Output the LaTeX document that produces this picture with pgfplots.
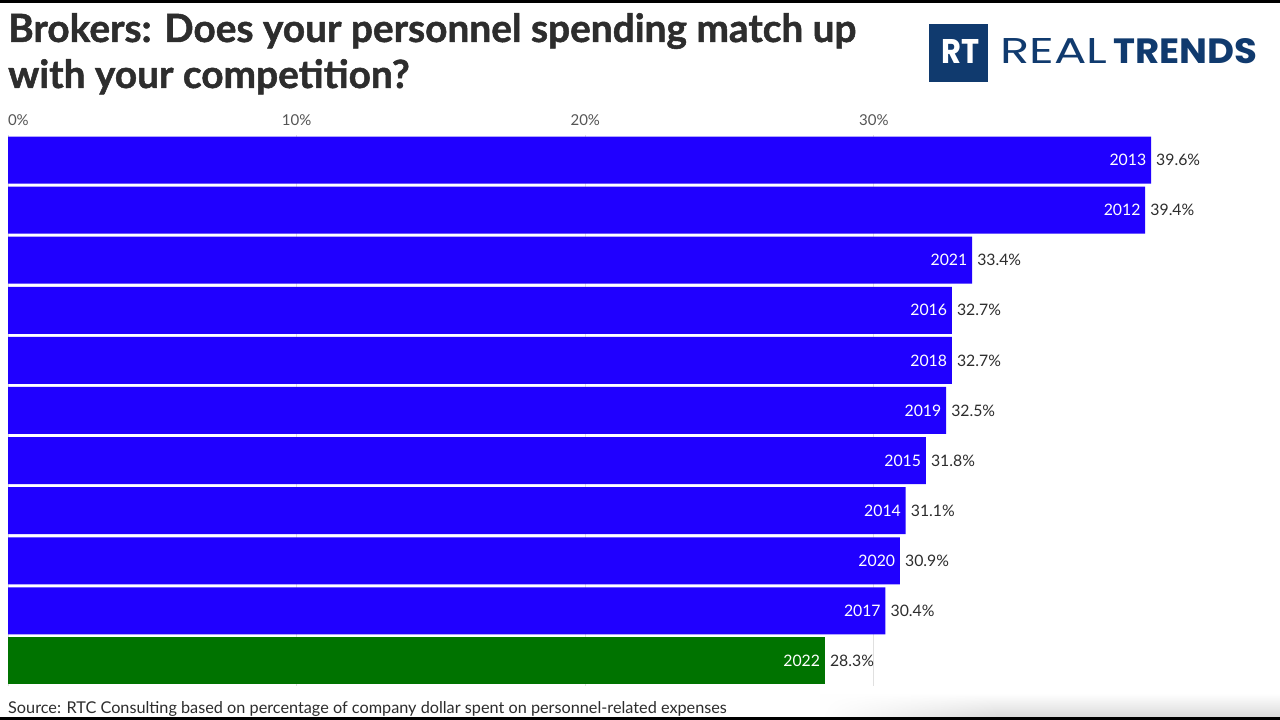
\documentclass[border=0pt]{standalone}
\usepackage{pgfplots}
\pgfplotsset{compat=1.18}
\usepackage{pgfplotstable}
\usetikzlibrary{fadings}
\usepackage{fontspec}
\setmainfont{Lato}
\newfontfamily\titlefont[BoldFeatures={FakeBold=1.3}]{Lato}
\newfontfamily\logofont{Poppins}
\definecolor{barblue}{RGB}{32,0,255}
\definecolor{bargreen}{RGB}{0,115,0}
\definecolor{navy}{RGB}{16,58,110}
\definecolor{txt}{RGB}{45,45,45}
\definecolor{tickc}{RGB}{85,85,85}

\pgfplotstableread{
pos val year
10 39.6 2013
9 39.4 2012
8 33.4 2021
7 32.7 2016
6 32.7 2018
5 32.5 2019
4 31.8 2015
3 31.1 2014
2 30.9 2020
1 30.4 2017
}\bluedata
\pgfplotstableread{
pos val year
0 28.3 2022
}\greendata

\begin{document}
\begin{tikzpicture}
\fill[white] (0pt,0pt) rectangle (1280pt,720pt);
% slight screen shadow near the bottom right
\fill[black!14, path fading=north] (820pt,3pt) rectangle (1280pt,26pt);
\fill[white, path fading=east] (820pt,3pt) rectangle (1000pt,26pt);
\fill[black] (0pt,717pt) rectangle (1280pt,720pt);
\fill[black] (0pt,0pt) rectangle (1280pt,3pt);
\begin{axis}[
 at={(8pt,34pt)}, anchor=south west,
 width=1270pt, height=551pt, scale only axis,
 xbar, bar width=47pt, bar shift=0pt,
 xmin=0, xmax=44, ymin=-0.5, ymax=10.5,
 axis line style={draw=none},
 ytick=\empty,
 xtick={0,10,20,30},
 xticklabels={\makebox[0pt][l]{0\%},10\%,20\%,30\%},
 xticklabel pos=upper,
 major tick length=0pt,
 xmajorgrids, grid style={color=black!12, line width=1pt},
 ticklabel style={font=\fontsize{15}{18}\selectfont, text=tickc},
 xticklabel style={anchor=base, yshift=9pt},
 point meta=explicit symbolic,
 visualization depends on={x \as \xval},
 nodes near coords={\llap{\textcolor{white}{\pgfplotspointmeta}\hspace{10pt}}\pgfmathprintnumber[fixed,fixed zerofill,precision=1,assume math mode=true]{\xval}\%},
 nodes near coords style={anchor=west, inner sep=0pt, xshift=5pt, font=\fontsize{15.8}{18}\selectfont, text=txt},
]
\addplot[fill=barblue, draw=none] table[x=val,y=pos,meta=year]{\bluedata};
\addplot[fill=bargreen, draw=none] table[x=val,y=pos,meta=year]{\greendata};
\end{axis}
% title
\node[anchor=base west, inner sep=0pt, font=\titlefont\fontsize{38.8}{46}\selectfont\bfseries, text=txt] at (8pt,678pt) {Brokers: Does your personnel spending match up};
\node[anchor=base west, inner sep=0pt, font=\titlefont\fontsize{38.8}{46}\selectfont\bfseries, text=txt] at (8pt,632pt) {with your competition?};
% source
\node[anchor=base west, inner sep=0pt, font=\fontsize{16.25}{20}\selectfont, text=txt] at (8pt,6pt) {Source: RTC Consulting based on percentage of company dollar spent on personnel-related expenses};
% logo
\fill[navy] (929pt,638pt) rectangle (988pt,696pt);
\node[anchor=south west, inner sep=0pt, text=white] at (941pt,656pt) {\resizebox{38pt}{24pt}{\logofont\bfseries RT}};
\node[anchor=south west, inner sep=0pt, text=navy] at (1000pt,656pt) {\resizebox{107pt}{25pt}{\logofont REAL}};
\node[anchor=south west, inner sep=0pt, text=navy] at (1113pt,656pt) {\resizebox{144pt}{25pt}{\logofont\bfseries TRENDS}};
\end{tikzpicture}
\end{document}
